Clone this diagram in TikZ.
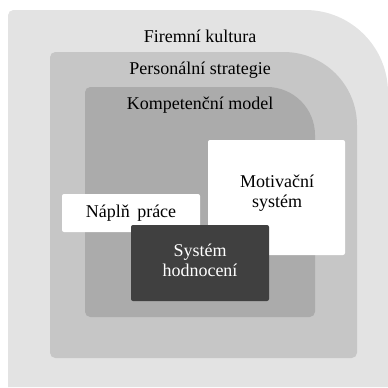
\documentclass[tikz,border=0pt]{standalone}
\usepackage{fontspec}
\setmainfont{Liberation Serif}
\usepackage{tikz}
\definecolor{kultura}{HTML}{E3E3E3}
\definecolor{strategie}{HTML}{C6C6C6}
\definecolor{model}{HTML}{ABABAB}
\definecolor{hodnoceni}{HTML}{404040}
\tikzset{
	popis/.style={font=\fontsize{13.5pt}{15pt}\selectfont, align=center, inner sep=0pt},
	bilybox/.style={fill=white, draw=none, rounded corners=1.5pt}
}

\begin{document}
\begin{tikzpicture}[x=0.75pt, y=-0.75pt]
		%%%%% START %%%%%
		\useasboundingbox (0, 0) rectangle (388, 387);
		
		\fill[kultura] (8, 387) [rounded corners=4] -- (8, 10) [rounded corners=62] -- (388, 10) [sharp corners] -- (388, 387) -- cycle;
		\fill[strategie] (50, 358) [rounded corners=4] -- (50, 52) [rounded corners=55] -- (357, 52) [rounded corners=4] -- (357, 358) -- cycle;
		\fill[model] (85, 317) [rounded corners=4] -- (85, 87) [rounded corners=36] -- (315, 87) [rounded corners=4] -- (315, 317) -- cycle;
		
		\node[popis] (firma) at (200, 36) {Firemní kultura};
		\node[popis] (strategie) at (200, 70) {Personální strategie};
		\node[popis] (model) at (200, 105) {Kompetenční model};
		
		\fill[bilybox] (208, 140) rectangle (345, 255);
		\node[popis] (motivace) at (277, 193) {Motivační\\systém};
		
		\fill[bilybox] (62, 194) rectangle (200, 232);
		\node[popis] (naplne) at (131, 213) {Náplň\, práce};
		
		\fill[hodnoceni, rounded corners=1.5pt] (131, 225) rectangle (269, 301);
		\node[popis, text=white] (hodnoceni) at (200, 260) {Systém\\hodnocení};
		%%%%% END %%%%%
	\end{tikzpicture}
\end{document}
